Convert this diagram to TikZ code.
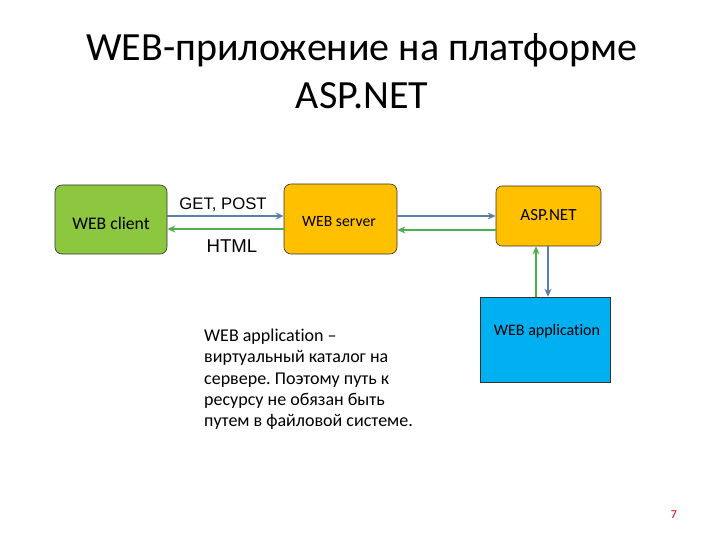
\documentclass[tikz,border=0pt]{standalone}
\usepackage{fontspec}
\setmainfont{Carlito}[Ligatures=NoCommon]
\newfontfamily\arialf{Liberation Sans}
\usetikzlibrary{arrows.meta}
\definecolor{cgreen}{HTML}{8DC63F}
\definecolor{corange}{HTML}{FFC000}
\definecolor{cblue}{HTML}{00B0F0}
\definecolor{arrblue}{HTML}{5A80AA}
\definecolor{arrgreen}{HTML}{4DB04D}
\frenchspacing
\begin{document}
\begin{tikzpicture}[x=1pt,y=-1pt,
  boxr/.style={draw=black!80,rounded corners=7pt,line width=0.6pt,inner sep=0pt},
  barrow/.style={draw=arrblue,line width=2.5pt,-{Stealth[length=8pt,width=7pt]}},
  garrow/.style={draw=arrgreen,line width=2.5pt,-{Stealth[length=8pt,width=7pt]}}]
\useasboundingbox (0,0) rectangle (720,540);
\node[boxr,fill=cgreen,minimum width=112pt,minimum height=69pt] (client) at (111,219.5) {};
\node[font=\fontsize{17.7}{20}\selectfont] (clientt) at (111,223) {WEB client};
\node[boxr,fill=corange,minimum width=113pt,minimum height=70pt] (server) at (340.5,219) {};
\node[font=\fontsize{15.7}{18}\selectfont] (servert) at (339,222) {WEB server};
\node[boxr,fill=corange,minimum width=105pt,minimum height=60pt,rounded corners=6pt] (asp) at (548.5,216) {};
\node[font=\fontsize{17}{20}\selectfont] (aspt) at (548.5,215) {ASP.NET};
\node[draw=black!80,line width=0.6pt,fill=cblue,minimum width=130pt,minimum height=85pt,inner sep=0pt] (app) at (545,339.5) {};
\node[font=\fontsize{16}{19}\selectfont] (appt) at (547,331) {WEB application};
% arrows
\draw[barrow] (client.east |- 0,216) -- (server.west |- 0,216);
\draw[garrow] (server.west |- 0,229) -- (client.east |- 0,229);
\draw[barrow] (server.east |- 0,216) -- (asp.west |- 0,216);
\draw[garrow] (asp.west |- 0,230) -- (server.east |- 0,230);
\draw[garrow] (app.north -| 536,0) -- (asp.south -| 536,0);
\draw[barrow] (asp.south -| 548,0) -- (app.north -| 548,0);
\node[font=\arialf\fontsize{16.7}{19}\selectfont] (get) at (223,205) {GET, POST};
\node[font=\arialf\fontsize{18.6}{21}\selectfont] (html) at (232,246) {HTML};
% text
\node[anchor=north west,align=left,font=\fontsize{18}{21.2}\selectfont,inner sep=0pt] (desc) at (204,329) {WEB application --\\виртуальный каталог на\\сервере. Поэтому путь к\\ресурсу не обязан быть\\путем в файловой системе.};
% title
\node[align=center,font=\fontsize{40}{48}\selectfont] (title) at (362,71) {WEB-приложение на платформе\\ASP.NET};
\node[text=red!80!black,font=\fontsize{12}{14}\selectfont] (pg) at (674,515) {7};
\end{tikzpicture}
\end{document}
